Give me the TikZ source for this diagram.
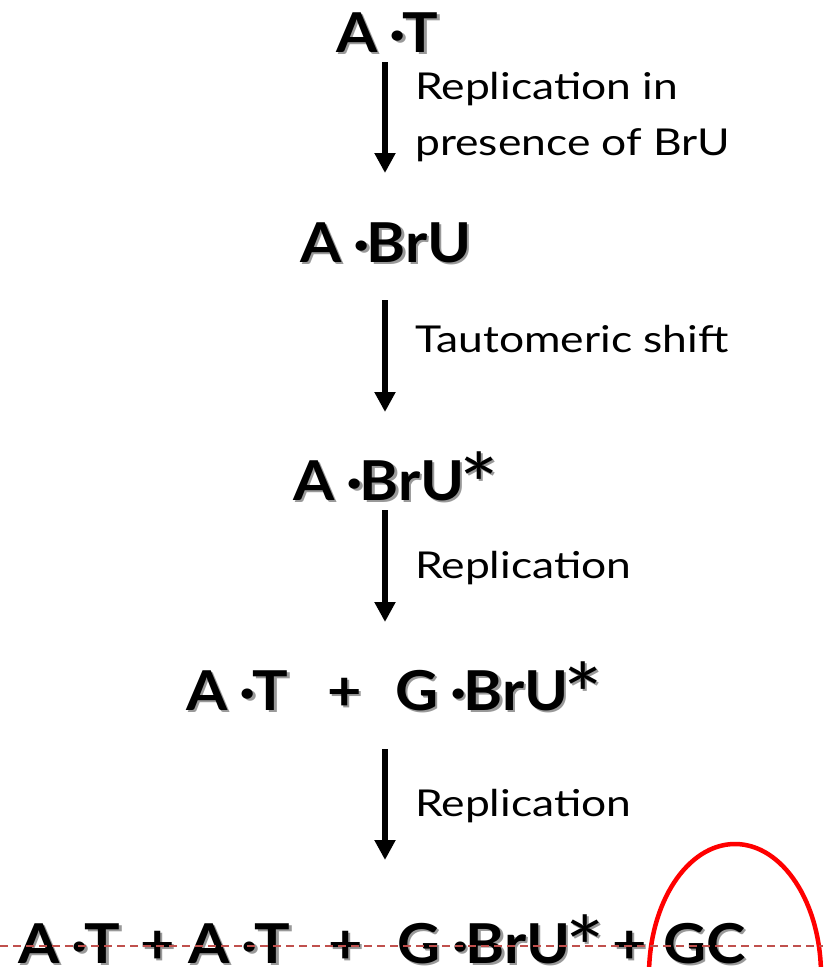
\documentclass[tikz,border=0pt]{standalone}
\usepackage{fontspec}
\setmainfont{Lato}
\newfontfamily\lblfont{Lato}[FakeStretch=1.2]
\newfontfamily\pairfont{Lato}[FakeStretch=1.08]
\usetikzlibrary{arrows.meta}
\definecolor{gcred}{RGB}{255,0,0}
\definecolor{dashred}{RGB}{192,80,77}
\newcommand\shd[1]{\makebox[0pt][l]{\kern2.5pt\raisebox{-2.5pt}{\color{black!40}#1}}#1}
\newcommand\mdt{\hspace{0.22em}·\hspace{-0.06em}}
\newcommand\astk{\hspace{-5pt}\raisebox{-16pt}{\fontsize{86}{86}\selectfont\mdseries *}}
\begin{document}
\begin{tikzpicture}[x=1pt,y=-1pt,
  pair/.style={anchor=base west, inner sep=0, font=\pairfont\fontsize{55}{55}\selectfont\bfseries},
  lbl/.style={anchor=base west, inner sep=0, align=left, font=\lblfont\fontsize{37}{56}\selectfont},
  arr/.style={line width=5.5pt, -{Triangle[length=20pt,width=20pt]}}]
\clip (0,0) rectangle (823,967);
\fill[white] (0,0) rectangle (823,967);
% red ellipse
\draw[gcred, line width=4.5pt] (735,975) ellipse [x radius=86pt, y radius=131pt];
% main pairs
\node[pair] (p1) at (336,52) {\shd{A\mdt T}};
\node[pair] (p2) at (300,262) {\shd{A\mdt BrU}};
\node[pair] (p3) at (293,500) {\shd{A\mdt BrU\astk}};
\node[pair] (p4a) at (186,710) {\shd{A\mdt T}};
\node[pair] (p4b) at (327,710) {\shd{+}};
\node[pair] (p4c) at (395,710) {\shd{G\mdt BrU\astk}};
\node[pair] (p5a) at (18,963) {\shd{A\mdt T}};
\node[pair] (p5b) at (140,963) {\shd{+}};
\node[pair] (p5c) at (188,963) {\shd{A\mdt T}};
\node[pair] (p5d) at (328,963) {\shd{+}};
\node[pair] (p5e) at (397,963) {\shd{G\mdt BrU\astk}};
\node[pair] (p5f) at (612,963) {\shd{+}};
\node[pair] (p5g) at (663,963) {\shd{GC}};
% labels
\node[lbl] (l1) at (415,155) {Replication in\\presence of BrU};
\node[lbl] (l2) at (415,352) {Tautomeric shift};
\node[lbl] (l3) at (415,578) {Replication};
\node[lbl] (l4) at (415,816) {Replication};
% arrows
\coordinate (a1s) at (385,62);  \coordinate (a1e) at (385,173);
\coordinate (a2s) at (385,300); \coordinate (a2e) at (385,412);
\coordinate (a3s) at (385,510); \coordinate (a3e) at (385,622);
\coordinate (a4s) at (385,749); \coordinate (a4e) at (385,860);
\draw[arr] (a1s) -- (a1e);
\draw[arr] (a2s) -- (a2e);
\draw[arr] (a3s) -- (a3e);
\draw[arr] (a4s) -- (a4e);
% dashed guide line
\coordinate (dl) at (0,946); \coordinate (dr) at (823,946);
\draw[dashred, line width=1.5pt, dash pattern=on 8pt off 5pt] (dl) -- (dr);
\end{tikzpicture}
\end{document}
